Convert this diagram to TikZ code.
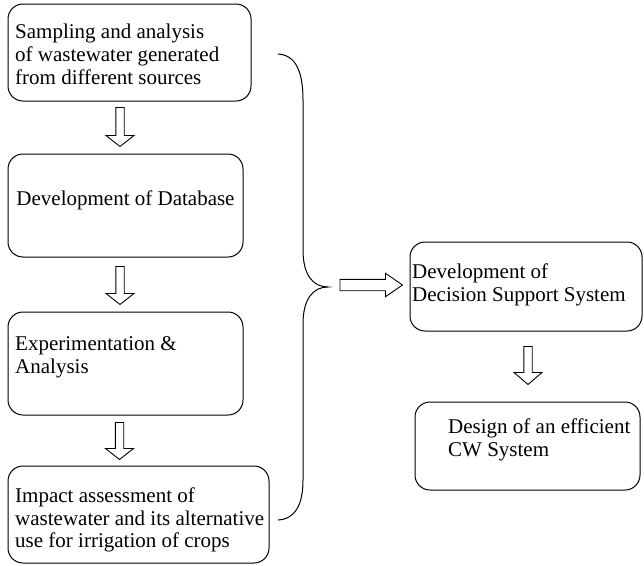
\documentclass[tikz,border=0pt]{standalone}
\usepackage{fontspec}
\setmainfont{Liberation Serif}
\usetikzlibrary{calc}
\tikzset{
  box/.style={draw, rounded corners=15pt, line width=1pt, inner sep=0pt},
  txt/.style={anchor=west, align=left, inner sep=0pt, font=\fontsize{21}{22.7}\selectfont},
  barrow/.style={draw, line width=0.9pt, fill=white, line join=miter},
  brace/.style={draw, line width=1pt},
}
\newcommand\blockarrow[5]{%
  \coordinate (hbase) at ($(#2)!#5!(#1)$);
  \draw[barrow] ($(#1)!#3!90:(#2)$) -- ($(hbase)!#3!90:(#2)$) -- ($(hbase)!#4!90:(#2)$)
    -- (#2) -- ($(hbase)!#4!-90:(#2)$) -- ($(hbase)!#3!-90:(#2)$) -- ($(#1)!#3!-90:(#2)$) -- cycle;
}
\begin{document}
\begin{tikzpicture}[x=1pt,y=-1pt]
\useasboundingbox (0,0) rectangle (644,565);
% boxes
\node[box, minimum width=243pt, minimum height=97pt] (b1) at (129.5,52.5) {};
\node[box, minimum width=235pt, minimum height=103pt] (b2) at (125.5,205.5) {};
\node[box, minimum width=235pt, minimum height=103pt] (b3) at (125.5,363.5) {};
\node[box, minimum width=261pt, minimum height=97pt] (b4) at (138.5,514.5) {};
\node[box, minimum width=232pt, minimum height=89pt] (b5) at (526,286.5) {};
\node[box, minimum width=225pt, minimum height=88pt] (b6) at (527.5,446) {};
% texts
\node[txt] (t1) at (15,54.5) {Sampling and analysis\\of wastewater generated\\from different sources};
\node[txt, anchor=center] (t2) at (125.5,200) {Development of Database};
\node[txt] (t3) at (15,357) {Experimentation \&\\Analysis};
\node[txt] (t4) at (15,520) {Impact assessment of\\wastewater and its alternative\\use for irrigation of crops};
\node[txt] (t5) at (412,285) {Development of\\Decision Support System};
\node[txt] (t6) at (448,440) {Design of an efficient\\CW System};
% vertical block arrows
\coordinate (a1s) at ($(b1.south)+(-9.5,6)$);
\coordinate (a1e) at ($(b2.north)+(-5.5,-7)$);
\blockarrow{a1s}{a1e}{4.2pt}{14pt}{11pt}
\coordinate (a2s) at ($(b2.south)+(-5.5,9)$);
\coordinate (a2e) at ($(b3.north)+(-5.5,-7)$);
\blockarrow{a2s}{a2e}{4.2pt}{14pt}{11pt}
\coordinate (a3s) at ($(b3.south)+(-6,7)$);
\coordinate (a3e) at ($(b4.north)+(-19,-6)$);
\blockarrow{a3s}{a3e}{4.2pt}{14pt}{11pt}
\coordinate (a5s) at ($(b5.south)+(2,15)$);
\coordinate (a5e) at ($(b6.north)+(0.5,-17)$);
\blockarrow{a5s}{a5e}{4.2pt}{14pt}{12pt}
% brace
\coordinate (tip) at (328,287);
\draw[brace] (278,54) .. controls (296,55) and (303,72) .. (303,100) -- (303,250)
  .. controls (303,275) and (313,287) .. (tip)
  .. controls (313,287) and (303,299) .. (303,324) -- (303,480)
  .. controls (303,505) and (295,519) .. (278,520);
% horizontal block arrow
\coordinate (hs) at ($(tip)+(12,-2)$);
\coordinate (he) at ($(b5.west)+(-7,-1.5)$);
\blockarrow{hs}{he}{5.7pt}{11.7pt}{17pt}
\end{tikzpicture}
\end{document}
